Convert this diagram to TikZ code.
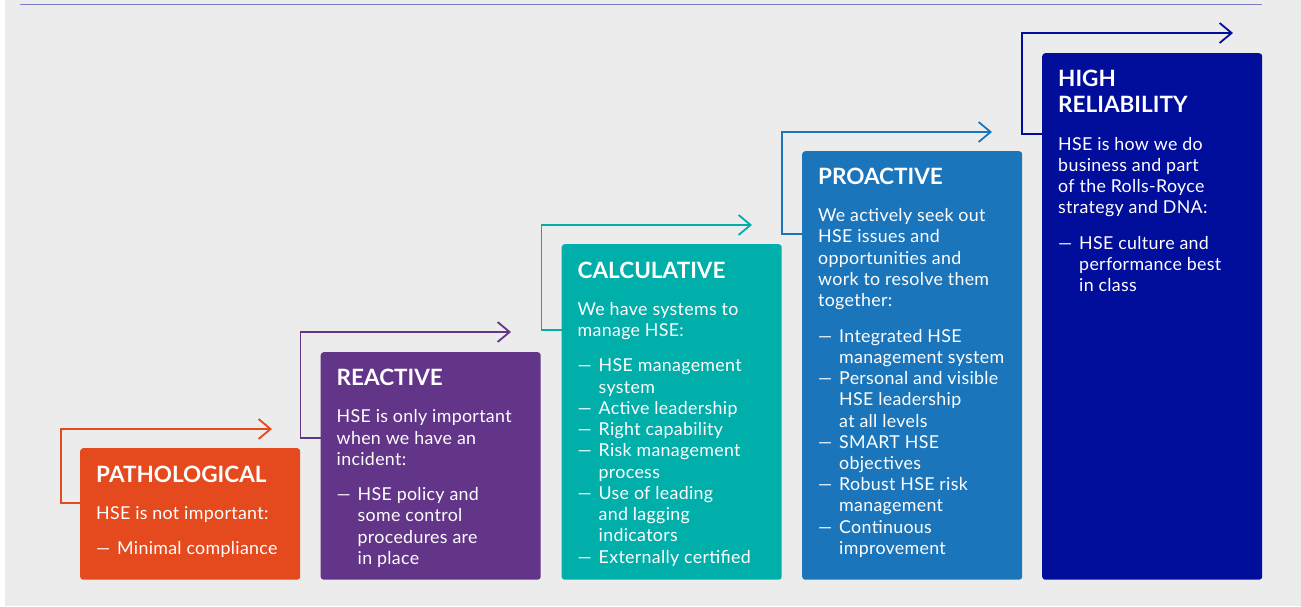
\documentclass[tikz,border=0pt]{standalone}
\usepackage{fontspec}
\setmainfont{Lato}
\newfontfamily\bodyf[LetterSpace=1.8]{Lato}
\usetikzlibrary{arrows.meta,calc}
\definecolor{bg}{HTML}{ECECEC}
\definecolor{topl}{HTML}{7B7FC7}
\definecolor{cA}{HTML}{E5491E}
\definecolor{cB}{HTML}{633589}
\definecolor{cC}{HTML}{00AEAA}
\definecolor{cD}{HTML}{1A75BB}
\definecolor{cE}{HTML}{000E9B}
\newcommand\bodysz{\bodyf\fontsize{17.8}{21.25}\selectfont}
\newcommand\titlesz{\rmfamily\fontsize{22.5}{26}\bfseries\selectfont}
\newcommand\Ttl[1]{\hbox{\titlesz #1}}
\newcommand\Ln[1]{\hbox{\bodysz #1}}
\newcommand\It[1]{\hbox{\bodysz\makebox[21pt][l]{—}#1}}
\newcommand\Ct[1]{\hbox{\bodysz\hspace*{21pt}#1}}
\newcommand\Gp[1]{\vskip #1pt}
\newcommand\Stack[1]{\vtop{\bodysz\lineskiplimit=-100pt\lineskip=0pt #1}}
\tikzset{
  stage/.style={fill=#1, rounded corners=3pt, anchor=north west, minimum width=220pt, inner sep=0pt, draw=none},
  label/.style={anchor=base west, inner sep=0pt, text=white},
  hook/.style={draw=#1, line width=1.8pt, -{Straight Barb[length=12pt,width=20pt]}},
}
\begin{document}
\begin{tikzpicture}[x=1pt,y=-1pt]
\useasboundingbox (0,0) rectangle (1301,607);
\fill[white] (0,0) rectangle (1301,607);
\fill[bg] (5,0) rectangle (1301,606);
\draw[topl, line width=1.5pt] (20,4.5) -- (1262,4.5);

% boxes
\node[stage=cA, minimum height=131.5pt] (b1) at (80,448) {};
\node[stage=cB, minimum height=227.5pt] (b2) at (320.5,352) {};
\node[stage=cC, minimum height=335.5pt] (b3) at (561.5,244) {};
\node[stage=cD, minimum height=428.5pt] (b4) at (802,151) {};
\node[stage=cE, minimum height=526.5pt] (b5) at (1042,53) {};

% arrow tips
\coordinate (t1) at (272,429);
\coordinate (t2) at (511,332);
\coordinate (t3) at (752,225);
\coordinate (t4) at (992,132);
\coordinate (t5) at (1233,33);

\draw[hook=cA] ($(b1.north west)+(0,55)$) -- ++(-19,0) |- (t1);
\draw[hook=cB] ($(b2.north west)+(0,86)$) -- ++(-20,0) |- (t2);
\draw[hook=cC] ($(b3.north west)+(0,86)$) -- ++(-20,0) |- (t3);
\draw[hook=cD] ($(b4.north west)+(0,83)$) -- ++(-20,0) |- (t4);
\draw[hook=cE] ($(b5.north west)+(0,81)$) -- ++(-20,0) |- (t5);

% texts
\node[label] (x1) at ($(b1.north west)+(16,34)$) {\Stack{%
\Ttl{PATHOLOGICAL}\Gp{16}
\Ln{HSE is not important:}\Gp{14}
\It{Minimal compliance}}};

\node[label] (x2) at ($(b2.north west)+(16,33.5)$) {\Stack{%
\Ttl{REACTIVE}\Gp{16}
\Ln{HSE is only important}
\Ln{when we have an}
\Ln{incident:}\Gp{14}
\It{HSE policy and}
\Ct{some control}
\Ct{procedures are}
\Ct{in place}}};

\node[label] (x3) at ($(b3.north west)+(16,34)$) {\Stack{%
\Ttl{CALCULATIVE}\Gp{16}
\Ln{We have systems to}
\Ln{manage HSE:}\Gp{14}
\It{HSE management}
\Ct{system}
\It{Active leadership}
\It{Right capability}
\It{Risk management}
\Ct{process}
\It{Use of leading}
\Ct{and lagging}
\Ct{indicators}
\It{Externally certified}}};

\node[label] (x4) at ($(b4.north west)+(16,33.5)$) {\Stack{%
\Ttl{PROACTIVE}\Gp{16}
\Ln{We actively seek out}
\Ln{HSE issues and}
\Ln{opportunities and}
\Ln{work to resolve them}
\Ln{together:}\Gp{14}
\It{Integrated HSE}
\Ct{management system}
\It{Personal and visible}
\Ct{HSE leadership}
\Ct{at all levels}
\It{SMART HSE}
\Ct{objectives}
\It{Robust HSE risk}
\Ct{management}
\It{Continuous}
\Ct{improvement}}};

\node[label] (x5) at ($(b5.north west)+(16,34)$) {\Stack{%
\Ttl{HIGH}\Gp{4.75}
\Ttl{RELIABILITY}\Gp{16}
\Ln{HSE is how we do}
\Ln{business and part}
\Ln{of the Rolls-Royce}
\Ln{strategy and DNA:}\Gp{14}
\It{HSE culture and}
\Ct{performance best}
\Ct{in class}}};
\end{tikzpicture}
\end{document}
